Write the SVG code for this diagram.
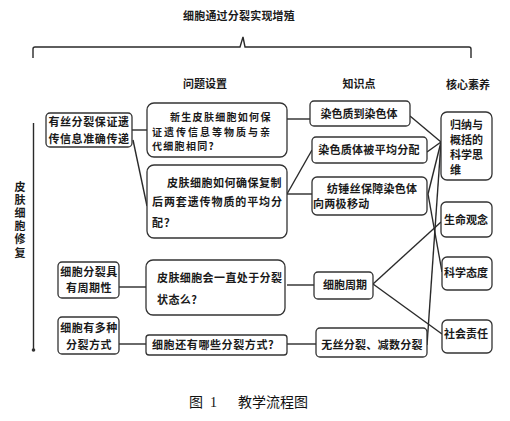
<svg xmlns="http://www.w3.org/2000/svg" width="510" height="421" viewBox="0 0 510 421">
<defs>
<style>
.t{font-family:"Noto Sans CJK SC","Noto Sans",sans-serif;font-size:11px;fill:#1a1a1a;font-weight:bold}
.s{font-size:10px}
.b rect{fill:#fff;stroke:#333;stroke-width:1.3}
.c line,.c path{stroke:#2a2a2a;stroke-width:1.4;fill:none}
.cap{font-family:"Noto Sans CJK SC",sans-serif;font-size:14px;fill:#111}
</style>
<marker id="dot" markerWidth="4" markerHeight="4" refX="2" refY="2"><circle cx="2" cy="2" r="1.3" fill="#333"/></marker>
</defs>
<rect width="510" height="421" fill="#fff"/>
<g id="title">
<text class="t" x="239" y="20" text-anchor="middle" letter-spacing="0.2">细胞通过分裂实现增殖</text>
</g>
<g id="headers">
<text class="t" x="205" y="88" text-anchor="middle">问题设置</text>
<text class="t" x="359" y="88" text-anchor="middle">知识点</text>
<text class="t" x="468" y="89" text-anchor="middle">核心素养</text>
</g>
<g id="sidelabel">
<text class="t" x="20" y="181" style="writing-mode:vertical-rl" letter-spacing="2.2">皮肤细胞修复</text>
</g>
<g id="connectors" class="c">
<path d="M33,58 V49 Q33,47 35,47 H240 L243,37 L245,47 H469 Q471,47 471,49 V58"/>
<line x1="33.5" y1="123" x2="33.5" y2="350" marker-end="url(#dot)"/>
<line x1="132" y1="130" x2="147" y2="130"/>
<line x1="133" y1="140" x2="147" y2="206"/>
<line x1="119" y1="287" x2="146" y2="287"/>
<line x1="119" y1="344" x2="146" y2="344"/>
<line x1="287" y1="119" x2="310" y2="119"/>
<line x1="287" y1="194" x2="312" y2="150"/>
<line x1="287" y1="194" x2="312" y2="194"/>
<line x1="287" y1="285" x2="314" y2="285"/>
<line x1="287" y1="344" x2="316" y2="344"/>
<line x1="410" y1="116" x2="441" y2="142"/>
<line x1="427" y1="152" x2="441" y2="142"/>
<line x1="428" y1="194" x2="441" y2="142"/>
<line x1="428" y1="194" x2="442" y2="272"/>
<line x1="441" y1="142" x2="427" y2="345"/>
<line x1="373" y1="284" x2="441" y2="222"/>
<line x1="373" y1="284" x2="442" y2="334"/>
</g>
<g id="n-box1" class="b">
<rect x="46" y="113" width="86" height="34" rx="4"/>
<text class="t" x="89" y="126" text-anchor="middle" letter-spacing="0.6">有丝分裂保证遗</text>
<text class="t" x="89" y="143" text-anchor="middle" letter-spacing="0.6">传信息准确传递</text>
</g>
<g id="n-box2" class="b">
<rect x="58" y="262" width="61" height="36" rx="4"/>
<text class="t" x="89" y="276" text-anchor="middle" letter-spacing="0.5">细胞分裂具</text>
<text class="t" x="89" y="292" text-anchor="middle" letter-spacing="0.5">有周期性</text>
</g>
<g id="n-box3" class="b">
<rect x="58" y="317" width="61" height="37" rx="4"/>
<text class="t" x="89" y="332" text-anchor="middle" letter-spacing="0.5">细胞有多种</text>
<text class="t" x="89" y="349" text-anchor="middle" letter-spacing="0.5">分裂方式</text>
</g>
<g id="n-q1" class="b">
<rect x="147" y="103" width="140" height="54" rx="7"/>
<text class="t s" x="170" y="121" letter-spacing="1.3">新生皮肤细胞如何保</text>
<text class="t s" x="152" y="135.5" letter-spacing="2">证遗传信息等物质与亲</text>
<text class="t s" x="152" y="150" letter-spacing="1.3">代细胞相同?</text>
</g>
<g id="n-q2" class="b">
<rect x="147" y="165" width="140" height="73" rx="7"/>
<text class="t" x="167" y="187" letter-spacing="0.5">皮肤细胞如何确保复制</text>
<text class="t" x="152" y="206" letter-spacing="0.9">后两套遗传物质的平均分</text>
<text class="t" x="152" y="227" letter-spacing="0.9">配？</text>
</g>
<g id="n-q3" class="b">
<rect x="146" y="260" width="139" height="55" rx="7"/>
<text class="t" x="157" y="282" letter-spacing="0.4">皮肤细胞会一直处于分裂</text>
<text class="t" x="157" y="304" letter-spacing="0.4">状态么?</text>
</g>
<g id="n-q4" class="b">
<rect x="146" y="335" width="141" height="20" rx="3"/>
<text class="t" x="152" y="349" letter-spacing="0.6">细胞还有哪些分裂方式?</text>
</g>
<g id="n-k1" class="b">
<rect x="310" y="101" width="100" height="25" rx="4"/>
<text class="t" x="359" y="118" text-anchor="middle">染色质到染色体</text>
</g>
<g id="n-k2" class="b">
<rect x="312" y="137" width="115" height="26" rx="4"/>
<text class="t" x="369" y="154" text-anchor="middle" letter-spacing="0.3">染色质体被平均分配</text>
</g>
<g id="n-k3" class="b">
<rect x="312" y="177" width="115" height="38" rx="5"/>
<text class="t" x="327" y="193" letter-spacing="0.3">纺锤丝保障染色体</text>
<text class="t" x="313" y="208" letter-spacing="0.3">向两极移动</text>
</g>
<g id="n-k4" class="b">
<rect x="314" y="272" width="59" height="27" rx="4"/>
<text class="t" x="345" y="289" text-anchor="middle">细胞周期</text>
</g>
<g id="n-k5" class="b">
<rect x="316" y="328" width="111" height="29" rx="4"/>
<text class="t" x="372" y="349" text-anchor="middle" letter-spacing="0.3">无丝分裂、减数分裂</text>
</g>
<g id="n-c1" class="b">
<rect x="441" y="112" width="51" height="68" rx="6"/>
<text class="t" x="450" y="129">归纳与</text>
<text class="t" x="450" y="144">概括的</text>
<text class="t" x="450" y="159">科学思</text>
<text class="t" x="450" y="174">维</text>
</g>
<g id="n-c2" class="b">
<rect x="441" y="202" width="51" height="35" rx="5"/>
<text class="t" x="466" y="224" text-anchor="middle">生命观念</text>
</g>
<g id="n-c3" class="b">
<rect x="442" y="257" width="50" height="33" rx="5"/>
<text class="t" x="466" y="277" text-anchor="middle">科学态度</text>
</g>
<g id="n-c4" class="b">
<rect x="442" y="320" width="50" height="33" rx="5"/>
<text class="t" x="466" y="338" text-anchor="middle">社会责任</text>
</g>
<g id="caption">
<text class="cap" x="189" y="407">图</text>
<text x="210" y="407" style="font-family:'Liberation Serif',serif;font-size:14px;fill:#111">1</text>
<text class="cap" x="238" y="407">教学流程图</text>
</g>
</svg>
